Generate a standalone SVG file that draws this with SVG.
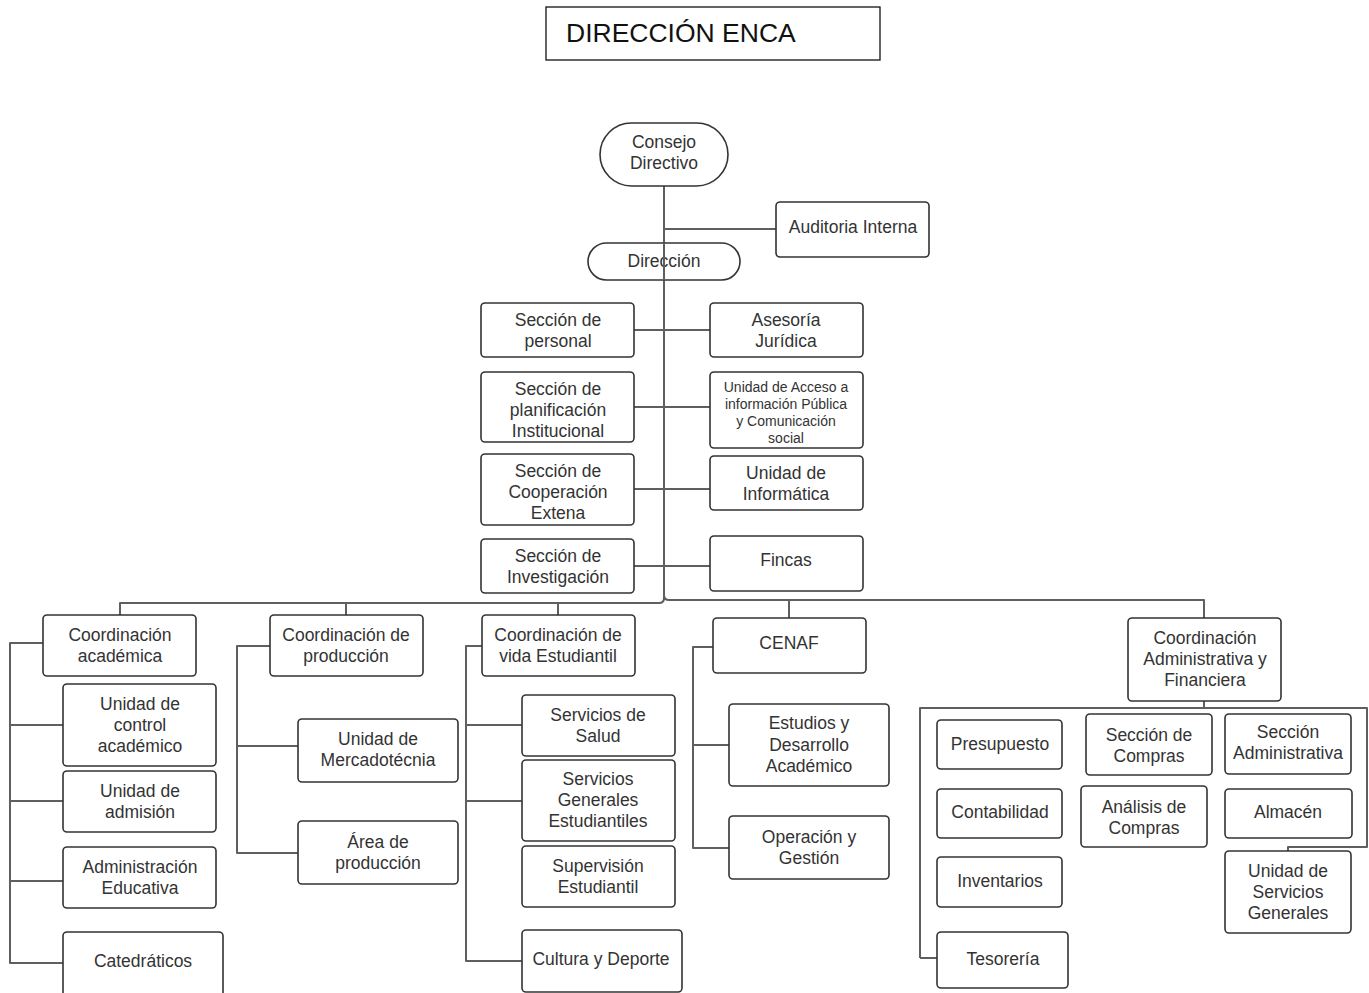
<svg xmlns="http://www.w3.org/2000/svg" width="1369" height="993" viewBox="0 0 1369 993">
<style>
.b{fill:#fff;stroke:#333;stroke-width:1.6}
.t{font-family:"Liberation Sans",Arial,sans-serif;font-size:17.5px;fill:#333;text-anchor:middle}
.s{font-size:14px}
.c{fill:none;stroke:#5f5f5f;stroke-width:2;stroke-linejoin:round}
</style>
<rect width="1369" height="993" fill="#fff"/>
<g id="title">
<rect x="546" y="7" width="334" height="53" fill="#fff" stroke="#111" stroke-width="1.3"/>
<text x="566" y="42" font-family="'Liberation Sans',Arial,sans-serif" font-size="26.5" fill="#111">DIRECCIÓN ENCA</text>
</g>
<g id="connectors">
<path class="c" d="M664 186V600"/>
<path class="c" d="M664 229H776"/>
<path class="c" d="M634 330H710M634 407H710M634 489H710M634 566H710"/>
<path class="c" d="M664 598Q664 603 659 603H120V615M346 603V615M558 603V615"/>
<path class="c" d="M664 595Q664 600 669 600H1204V619M789 600V618"/>
<path class="c" d="M43 643H10V963H63M10 725H63M10 801H63M10 881H63"/>
<path class="c" d="M270 646H237V853H298M237 746H298"/>
<path class="c" d="M482 646H466V961H522M466 725H522M466 801H522"/>
<path class="c" d="M713 647H693V848H729M693 745H729"/>
<path class="c" d="M1204 701V708M920 958V708H1367V847H1288V851"/>
<path class="c" d="M920 958H937"/>
</g>
<g id="consejo"><rect class="b" x="600" y="123" width="128" height="63" rx="31.5"/><text class="t" x="664" y="148">Consejo</text><text class="t" x="664" y="169">Directivo</text></g>
<g id="auditoria"><rect class="b" x="776" y="202" width="153" height="55" rx="4"/><text class="t" x="853" y="233">Auditoria Interna</text></g>
<g id="direccion"><rect class="b" x="588" y="243" width="152" height="37" rx="18.5"/><text class="t" x="664" y="267">Dirección</text></g>
<path class="c" d="M664 243V280"/>
<g id="personal"><rect class="b" x="481" y="303" width="153" height="54" rx="4"/><text class="t" x="558" y="326">Sección de</text><text class="t" x="558" y="347">personal</text></g>
<g id="asesoria"><rect class="b" x="710" y="303" width="153" height="54" rx="4"/><text class="t" x="786" y="326">Asesoría</text><text class="t" x="786" y="347">Jurídica</text></g>
<g id="planificacion"><rect class="b" x="481" y="372" width="153" height="70" rx="4"/><text class="t" x="558" y="395">Sección de</text><text class="t" x="558" y="416">planificación</text><text class="t" x="558" y="437">Institucional</text></g>
<g id="acceso"><rect class="b" x="710" y="372" width="153" height="76" rx="4"/><text class="t s" x="786" y="392">Unidad de Acceso a</text><text class="t s" x="786" y="409">información Pública</text><text class="t s" x="786" y="426">y Comunicación</text><text class="t s" x="786" y="443">social</text></g>
<g id="cooperacion"><rect class="b" x="481" y="454" width="153" height="71" rx="4"/><text class="t" x="558" y="477">Sección de</text><text class="t" x="558" y="498">Cooperación</text><text class="t" x="558" y="519">Extena</text></g>
<g id="informatica"><rect class="b" x="710" y="456" width="153" height="54" rx="4"/><text class="t" x="786" y="479">Unidad de</text><text class="t" x="786" y="500">Informática</text></g>
<g id="investigacion"><rect class="b" x="481" y="539" width="153" height="54" rx="4"/><text class="t" x="558" y="562">Sección de</text><text class="t" x="558" y="583">Investigación</text></g>
<g id="fincas"><rect class="b" x="710" y="536" width="153" height="55" rx="4"/><text class="t" x="786" y="566">Fincas</text></g>
<g id="coord-academica"><rect class="b" x="43" y="615" width="153" height="61" rx="4"/><text class="t" x="120" y="641">Coordinación</text><text class="t" x="120" y="662">académica</text></g>
<g id="control"><rect class="b" x="63" y="684" width="153" height="82" rx="4"/><text class="t" x="140" y="710">Unidad de</text><text class="t" x="140" y="731">control</text><text class="t" x="140" y="752">académico</text></g>
<g id="admision"><rect class="b" x="63" y="771" width="153" height="61" rx="4"/><text class="t" x="140" y="797">Unidad de</text><text class="t" x="140" y="818">admisión</text></g>
<g id="adm-educativa"><rect class="b" x="63" y="847" width="153" height="61" rx="4"/><text class="t" x="140" y="873">Administración</text><text class="t" x="140" y="894">Educativa</text></g>
<g id="catedraticos"><rect class="b" x="63" y="932" width="160" height="80" rx="4"/><text class="t" x="143" y="967">Catedráticos</text></g>
<g id="coord-produccion"><rect class="b" x="270" y="615" width="153" height="61" rx="4"/><text class="t" x="346" y="641">Coordinación de</text><text class="t" x="346" y="662">producción</text></g>
<g id="mercadotecnia"><rect class="b" x="298" y="719" width="160" height="63" rx="4"/><text class="t" x="378" y="745">Unidad de</text><text class="t" x="378" y="766">Mercadotécnia</text></g>
<g id="area-produccion"><rect class="b" x="298" y="821" width="160" height="63" rx="4"/><text class="t" x="378" y="848">Área de</text><text class="t" x="378" y="869">producción</text></g>
<g id="coord-vida"><rect class="b" x="482" y="615" width="153" height="61" rx="4"/><text class="t" x="558" y="641">Coordinación de</text><text class="t" x="558" y="662">vida Estudiantil</text></g>
<g id="salud"><rect class="b" x="522" y="695" width="153" height="61" rx="4"/><text class="t" x="598" y="721">Servicios de</text><text class="t" x="598" y="742">Salud</text></g>
<g id="serv-generales-est"><rect class="b" x="522" y="760" width="153" height="81" rx="4"/><text class="t" x="598" y="785">Servicios</text><text class="t" x="598" y="806">Generales</text><text class="t" x="598" y="827">Estudiantiles</text></g>
<g id="supervision"><rect class="b" x="522" y="846" width="153" height="61" rx="4"/><text class="t" x="598" y="872">Supervisión</text><text class="t" x="598" y="893">Estudiantil</text></g>
<g id="cultura"><rect class="b" x="522" y="930" width="160" height="62" rx="4"/><text class="t" x="601" y="965">Cultura y Deporte</text></g>
<g id="cenaf"><rect class="b" x="713" y="618" width="153" height="55" rx="4"/><text class="t" x="789" y="649">CENAF</text></g>
<g id="estudios"><rect class="b" x="729" y="704" width="160" height="82" rx="4"/><text class="t" x="809" y="729">Estudios y</text><text class="t" x="809" y="751">Desarrollo</text><text class="t" x="809" y="772">Académico</text></g>
<g id="operacion"><rect class="b" x="729" y="816" width="160" height="63" rx="4"/><text class="t" x="809" y="843">Operación y</text><text class="t" x="809" y="864">Gestión</text></g>
<g id="coord-admin"><rect class="b" x="1128" y="618" width="153" height="83" rx="4"/><text class="t" x="1205" y="644">Coordinación</text><text class="t" x="1205" y="665">Administrativa y</text><text class="t" x="1205" y="686">Financiera</text></g>
<g id="presupuesto"><rect class="b" x="937" y="720" width="125" height="49" rx="4"/><text class="t" x="1000" y="750">Presupuesto</text></g>
<g id="contabilidad"><rect class="b" x="937" y="789" width="125" height="49" rx="4"/><text class="t" x="1000" y="818">Contabilidad</text></g>
<g id="inventarios"><rect class="b" x="937" y="857" width="125" height="50" rx="4"/><text class="t" x="1000" y="887">Inventarios</text></g>
<g id="tesoreria"><rect class="b" x="937" y="932" width="131" height="56" rx="4"/><text class="t" x="1003" y="965">Tesorería</text></g>
<g id="sec-compras"><rect class="b" x="1086" y="714" width="126" height="61" rx="4"/><text class="t" x="1149" y="741">Sección de</text><text class="t" x="1149" y="762">Compras</text></g>
<g id="analisis"><rect class="b" x="1081" y="786" width="126" height="61" rx="4"/><text class="t" x="1144" y="813">Análisis de</text><text class="t" x="1144" y="834">Compras</text></g>
<g id="sec-admin"><rect class="b" x="1225" y="714" width="126" height="60" rx="4"/><text class="t" x="1288" y="738">Sección</text><text class="t" x="1288" y="759">Administrativa</text></g>
<g id="almacen"><rect class="b" x="1225" y="789" width="127" height="49" rx="4"/><text class="t" x="1288" y="818">Almacén</text></g>
<g id="serv-generales"><rect class="b" x="1225" y="851" width="126" height="82" rx="4"/><text class="t" x="1288" y="877">Unidad de</text><text class="t" x="1288" y="898">Servicios</text><text class="t" x="1288" y="919">Generales</text></g>
</svg>
